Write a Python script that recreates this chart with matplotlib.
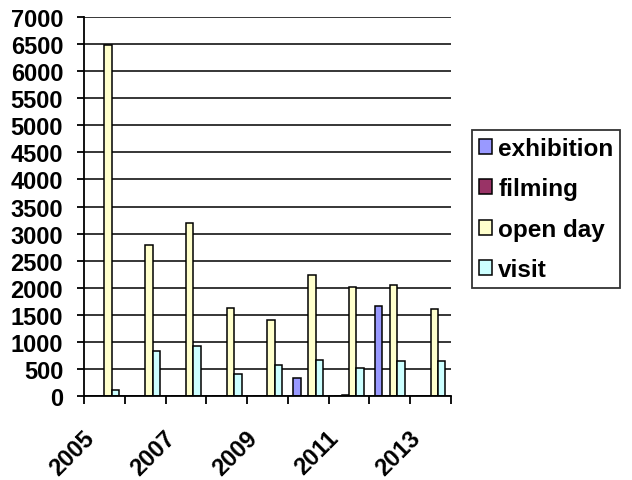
import numpy as np
import matplotlib
matplotlib.use("Agg")
import matplotlib.pyplot as plt
import matplotlib.transforms as mtransforms

# -------------------------------
# Data
# -------------------------------
years = ["2005", "2006", "2007", "2008", "2009", "2010", "2011", "2012", "2013"]
exhibition = [0, 0, 0, 0, 0, 340, 0, 1660, 0]
filming = [0, 0, 0, 0, 0, 0, 15, 0, 0]
open_day = [6480, 2790, 3200, 1620, 1410, 2240, 2010, 2050, 1600]
visit = [110, 840, 920, 400, 570, 660, 510, 650, 650]

series_names = ["exhibition", "filming", "open day", "visit"]
series_values = [exhibition, filming, open_day, visit]
colors = ["#9999FF", "#993366", "#FFFFCC", "#CCFFFF"]

plt.rcParams["font.family"] = ["Liberation Sans", "DejaVu Sans"]
plt.rcParams["font.weight"] = "bold"

# -------------------------------
# Chart
# -------------------------------
fig = plt.figure(figsize=(6.32, 4.81), dpi=100)
ax = fig.add_axes([0.1329, 0.1746, 0.5807, 0.788])

x = np.arange(len(years))
w = 1 / 5.5
for k, (name, vals, c) in enumerate(zip(series_names, series_values, colors)):
    ax.bar(x + (k - 1.5) * w, vals, width=w, color=c, edgecolor="black",
           linewidth=1.1, label=name, zorder=3)

ax.set_xlim(-0.5, len(years) - 0.5)
ax.set_ylim(0, 7000)
ax.set_yticks(np.arange(0, 7001, 500))
ax.yaxis.grid(True, color="black", linewidth=1.1, zorder=0)
ax.set_axisbelow(True)

for s in ["top", "right"]:
    ax.spines[s].set_visible(False)
for s in ["left", "bottom"]:
    ax.spines[s].set_linewidth(1.3)
    ax.spines[s].set_zorder(4)

ax.set_xticks(np.arange(-0.5, len(years)), [])
ax.set_xticks(x[::2], years[::2], minor=True,
              rotation=45, ha="right", va="top", rotation_mode="anchor",
              fontsize=17, fontweight="bold")
ax.tick_params(axis="x", which="major", length=5.5, width=1.3, direction="out")
ax.tick_params(axis="x", which="minor", length=0, pad=8)
ax.tick_params(axis="y", length=5, width=1.3, direction="out", pad=10,
               labelsize=17)

# shift year labels down-left like the original
offset = mtransforms.ScaledTranslation(-0.22, -0.19, fig.dpi_scale_trans)
for lbl in ax.get_xticklabels(minor=True):
    lbl.set_transform(lbl.get_transform() + offset)

leg = ax.legend(loc="upper left", bbox_to_anchor=(472 / 632, 1 - 131 / 481),
                bbox_transform=fig.transFigure, fontsize=17.5, frameon=True,
                fancybox=False, edgecolor="black", handlelength=0.55,
                handleheight=0.55, handletextpad=0.25, labelspacing=0.72,
                borderpad=0.28, borderaxespad=0)
leg.get_frame().set_linewidth(1.3)

fig.savefig("out.png", dpi=100)
